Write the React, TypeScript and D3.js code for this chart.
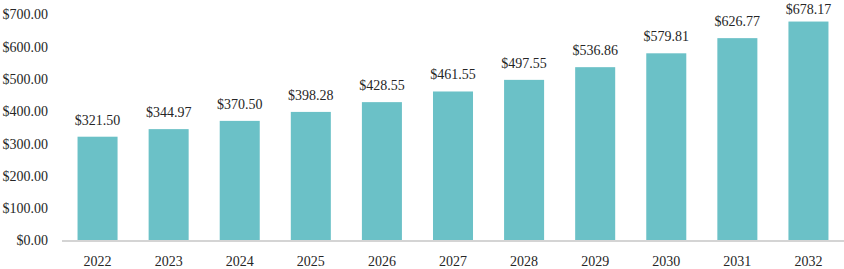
import React from "react";
import * as d3 from "d3";

const years = ["2022","2023","2024","2025","2026","2027","2028","2029","2030","2031","2032"];
const values = [321.5,344.97,370.5,398.28,428.55,461.55,497.55,536.86,579.81,626.77,678.17];
const yTicks = [0,100,200,300,400,500,600,700];

export default function App() {
  const W = 844, H = 269;
  const x = d3.scaleBand<string>().domain(years).range([62, 844]).paddingInner(0.437).paddingOuter(0.2185);
  const y = d3.scaleLinear().domain([0, 700]).range([240.5, 14.5]);
  const fmt = (v: number) => "$" + d3.format(",.2f")(v);
  const font = "'Liberation Serif', 'Times New Roman', serif";
  return (
    <svg width={W} height={H} style={{ position: "absolute", left: 0, top: 0 }} fontFamily={font}>
      {yTicks.map(t => (
        <text key={t} x={48} y={y(t)} dy="0.35em" textAnchor="end" fontSize={14} fill="#262626">{fmt(t)}</text>
      ))}
      {years.map((yr, i) => (
        <g key={yr}>
          <rect x={x(yr)} y={y(values[i])} width={x.bandwidth()} height={y(0) - y(values[i])} fill="#6bc1c7" />
          <text x={(x(yr) as number) + x.bandwidth() / 2} y={Math.max(14, y(values[i]) - 12)} textAnchor="middle" fontSize={14} fill="#262626">{fmt(values[i])}</text>
          <text x={(x(yr) as number) + x.bandwidth() / 2} y={266} textAnchor="middle" fontSize={14} fill="#262626">{yr}</text>
        </g>
      ))}
      <line x1={62} x2={844} y1={y(0) + 0.5} y2={y(0) + 0.5} stroke="#d4d4d4" strokeWidth={2} />
    </svg>
  );
}
